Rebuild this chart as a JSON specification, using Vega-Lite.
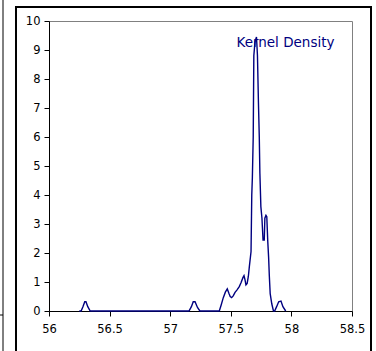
{
  "$schema": "https://vega.github.io/schema/vega-lite/v6.json",
  "width": 303,
  "height": 290,
  "autosize": {"type": "none"},
  "padding": {"left": 49, "top": 21, "right": 24, "bottom": 40},
  "background": "white",
  "config": {
    "view": {"stroke": "#808080", "strokeWidth": 1},
    "font": "DejaVu Sans",
    "axis": {"grid": false, "domainColor": "black", "tickColor": "black", "labelColor": "black", "labelFontSize": 11.5, "labelFont": "DejaVu Sans", "tickSize": 5, "title": null, "labelOverlap": false, "labelBound": false, "labelFlush": false},
    "axisX": {"tickCount": 5, "labelPadding": 7, "format": "~g"},
    "axisY": {"tickCount": 11, "labelPadding": 4}
  },
  "datasets": {
    "kde": [
      {"x": 56.25, "y": 0}, {"x": 56.265, "y": 0}, {"x": 56.28, "y": 0.15}, {"x": 56.295, "y": 0.32}, {"x": 56.305, "y": 0.32}, {"x": 56.32, "y": 0.15}, {"x": 56.34, "y": 0},
      {"x": 57.155, "y": 0}, {"x": 57.175, "y": 0.15}, {"x": 57.19, "y": 0.32}, {"x": 57.205, "y": 0.32}, {"x": 57.225, "y": 0.12}, {"x": 57.245, "y": 0},
      {"x": 57.405, "y": 0}, {"x": 57.42, "y": 0.2}, {"x": 57.438, "y": 0.46}, {"x": 57.455, "y": 0.65}, {"x": 57.471, "y": 0.76}, {"x": 57.485, "y": 0.6}, {"x": 57.495, "y": 0.5}, {"x": 57.507, "y": 0.46},
      {"x": 57.52, "y": 0.52}, {"x": 57.535, "y": 0.64}, {"x": 57.55, "y": 0.72}, {"x": 57.57, "y": 0.84}, {"x": 57.585, "y": 0.98}, {"x": 57.6, "y": 1.15}, {"x": 57.609, "y": 1.22}, {"x": 57.617, "y": 1.08}, {"x": 57.625, "y": 0.9}, {"x": 57.635, "y": 0.95},
      {"x": 57.645, "y": 1.2}, {"x": 57.653, "y": 1.53}, {"x": 57.667, "y": 2.05}, {"x": 57.673, "y": 4.0}, {"x": 57.678, "y": 4.6}, {"x": 57.685, "y": 6.0}, {"x": 57.69, "y": 8.8}, {"x": 57.7, "y": 9.3}, {"x": 57.712, "y": 9.45},
      {"x": 57.72, "y": 8.8}, {"x": 57.728, "y": 7.2}, {"x": 57.735, "y": 6.0}, {"x": 57.74, "y": 4.75}, {"x": 57.748, "y": 3.6}, {"x": 57.757, "y": 3.2}, {"x": 57.766, "y": 2.45}, {"x": 57.776, "y": 2.45}, {"x": 57.781, "y": 3.2}, {"x": 57.79, "y": 3.3}, {"x": 57.797, "y": 3.25},
      {"x": 57.805, "y": 2.4}, {"x": 57.812, "y": 1.85}, {"x": 57.818, "y": 1.2}, {"x": 57.825, "y": 0.6}, {"x": 57.838, "y": 0.25}, {"x": 57.852, "y": 0}, {"x": 57.862, "y": 0}, {"x": 57.878, "y": 0.15}, {"x": 57.895, "y": 0.32}, {"x": 57.914, "y": 0.34}, {"x": 57.93, "y": 0.15}, {"x": 57.953, "y": 0}
    ],
    "label": [{"x": 57.951, "y": 9.24, "text": "Kernel Density"}]
  },
  "layer": [
    {
      "data": {"name": "kde"},
      "mark": {"type": "line", "color": "#000080", "strokeWidth": 1.4, "interpolate": "linear"},
      "encoding": {
        "x": {"field": "x", "type": "quantitative", "scale": {"domain": [56, 58.5], "nice": false, "zero": false}},
        "y": {"field": "y", "type": "quantitative", "scale": {"domain": [0, 10], "nice": false}}
      }
    },
    {
      "data": {"name": "label"},
      "mark": {"type": "text", "color": "#000080", "fontSize": 13.5, "font": "DejaVu Sans", "align": "center", "baseline": "middle"},
      "encoding": {
        "x": {"field": "x", "type": "quantitative"},
        "y": {"field": "y", "type": "quantitative"},
        "text": {"field": "text"}
      }
    },
    {
      "data": {"values": [{"x1": 55.7277, "x2": 58.6568, "y1": 10.483, "y2": -1.69}]},
      "mark": {"type": "rect", "fill": null, "fillOpacity": 0, "stroke": "black", "strokeWidth": 2, "clip": false},
      "encoding": {
        "x": {"field": "x1", "type": "quantitative"},
        "x2": {"field": "x2"},
        "y": {"field": "y1", "type": "quantitative"},
        "y2": {"field": "y2"}
      }
    },
    {
      "data": {"values": [{"x": 55.6205, "y1": 10.8, "y2": -1.69}]},
      "mark": {"type": "rule", "stroke": "black", "strokeWidth": 1, "clip": false},
      "encoding": {
        "x": {"field": "x", "type": "quantitative"},
        "y": {"field": "y1", "type": "quantitative"},
        "y2": {"field": "y2"}
      }
    },
    {
      "data": {"values": [{"x1": 55.596, "x2": 55.6205, "y": -0.138}]},
      "mark": {"type": "rule", "stroke": "black", "strokeWidth": 1, "clip": false},
      "encoding": {
        "x": {"field": "x1", "type": "quantitative"},
        "x2": {"field": "x2"},
        "y": {"field": "y", "type": "quantitative"}
      }
    }
  ]
}
